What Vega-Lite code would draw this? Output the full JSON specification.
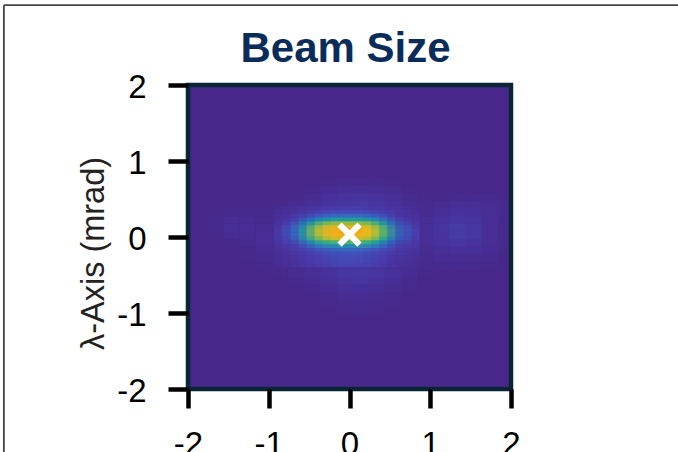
{"$schema":"https://vega.github.io/schema/vega-lite/v6.json","autosize":"none","padding":{"left":188,"top":85,"right":167,"bottom":63},"width":323,"height":304,"background":"white","title":{"text":"Beam Size","font":"Liberation Sans","fontSize":42,"fontWeight":"bold","color":"#0a2c5a","anchor":"middle","dx":-4,"offset":-67},"view":{"fill":"#47288a","stroke":null},
"encoding":{"x":{"field":"x","type":"quantitative","scale":{"domain":[-2,2],"nice":false,"zero":false},"axis":{"values":[-2,-1,0,1,2],"labelExpr":"toString(datum.value)","title":null,"domain":false,"grid":false,"zindex":1,"tickColor":"black","tickWidth":4.5,"tickSize":19,"labelFont":"Liberation Sans","labelFontSize":33,"labelColor":"black","labelPadding":20,"labelBaseline":"top","labelOverlap":false,"labelFlush":false}},"y":{"field":"y","type":"quantitative","scale":{"domain":[-2,2],"nice":false,"zero":false},"axis":{"values":[-2,-1,0,1,2],"labelExpr":"toString(datum.value)","title":"λ-Axis (mrad)","domain":false,"grid":false,"zindex":1,"tickColor":"black","tickWidth":4.5,"tickSize":20,"labelFont":"Liberation Sans","labelFontSize":33,"labelColor":"black","labelPadding":22,"labelBaseline":"middle","labelOffset":2,"labelOverlap":false,"labelFlush":false,"titleFont":"Liberation Sans","titleFontSize":32.5,"titleFontWeight":"normal","titleColor":"#222222","titleX":-78,"titleY":168}}},
"layer":[
{"data":{"values":[{"x":-0.2,"y":0.7,"v":0.02},{"x":0,"y":0.7,"v":0.03},{"x":0.2,"y":0.7,"v":0.03},{"x":0.4,"y":0.7,"v":0.02},
{"x":-0.4,"y":0.6,"v":0.03},{"x":-0.2,"y":0.6,"v":0.05},{"x":0,"y":0.6,"v":0.06},{"x":0.2,"y":0.6,"v":0.06},{"x":0.4,"y":0.6,"v":0.05},{"x":0.6,"y":0.6,"v":0.02},
{"x":-0.6,"y":0.5,"v":0.02},{"x":-0.4,"y":0.5,"v":0.05},{"x":-0.2,"y":0.5,"v":0.07},{"x":0,"y":0.5,"v":0.08},{"x":0.2,"y":0.5,"v":0.08},{"x":0.4,"y":0.5,"v":0.07},{"x":0.6,"y":0.5,"v":0.04},{"x":0.8,"y":0.5,"v":0.02},{"x":1.2,"y":0.5,"v":0.02},{"x":1.4,"y":0.5,"v":0.03},{"x":1.6,"y":0.5,"v":0.03},{"x":1.8,"y":0.5,"v":0.02},
{"x":-0.8,"y":0.4,"v":0.02},{"x":-0.6,"y":0.4,"v":0.04},{"x":-0.4,"y":0.4,"v":0.06},{"x":-0.2,"y":0.4,"v":0.08},{"x":0,"y":0.4,"v":0.09},{"x":0.2,"y":0.4,"v":0.09},{"x":0.4,"y":0.4,"v":0.08},{"x":0.6,"y":0.4,"v":0.05},{"x":0.8,"y":0.4,"v":0.02},{"x":1,"y":0.4,"v":0.02},{"x":1.2,"y":0.4,"v":0.04},{"x":1.4,"y":0.4,"v":0.05},{"x":1.6,"y":0.4,"v":0.05},{"x":1.8,"y":0.4,"v":0.03},
{"x":-1.6,"y":0.3,"v":0.02},{"x":-1.4,"y":0.3,"v":0.03},{"x":-1.2,"y":0.3,"v":0.02},{"x":-1,"y":0.3,"v":0.02},{"x":0.8,"y":0.3,"v":0.03},{"x":1,"y":0.3,"v":0.03},{"x":1.2,"y":0.3,"v":0.06},{"x":1.4,"y":0.3,"v":0.07},{"x":1.6,"y":0.3,"v":0.06},{"x":1.8,"y":0.3,"v":0.03},
{"x":-1.6,"y":0.2,"v":0.03},{"x":-1.4,"y":0.2,"v":0.05},{"x":-1.2,"y":0.2,"v":0.03},{"x":-1,"y":0.2,"v":0.03},{"x":0.8,"y":0.2,"v":0.03},{"x":1,"y":0.2,"v":0.05},{"x":1.2,"y":0.2,"v":0.08},{"x":1.4,"y":0.2,"v":0.09},{"x":1.6,"y":0.2,"v":0.07},{"x":1.8,"y":0.2,"v":0.03},
{"x":-1.6,"y":0.1,"v":0.02},{"x":-1.4,"y":0.1,"v":0.05},{"x":-1.2,"y":0.1,"v":0.03},{"x":-1,"y":0.1,"v":0.04},{"x":0.8,"y":0.1,"v":0.03},{"x":1,"y":0.1,"v":0.06},{"x":1.2,"y":0.1,"v":0.09},{"x":1.4,"y":0.1,"v":0.11},{"x":1.6,"y":0.1,"v":0.08},{"x":1.8,"y":0.1,"v":0.03},
{"x":-1.4,"y":0,"v":0.02},{"x":-1.2,"y":0,"v":0.02},{"x":-1,"y":0,"v":0.05},{"x":0.8,"y":0,"v":0.03},{"x":1,"y":0,"v":0.05},{"x":1.2,"y":0,"v":0.08},{"x":1.4,"y":0,"v":0.1},{"x":1.6,"y":0,"v":0.07},{"x":1.8,"y":0,"v":0.02},
{"x":-1.2,"y":-0.1,"v":0.02},{"x":-1,"y":-0.1,"v":0.05},{"x":0.8,"y":-0.1,"v":0.02},{"x":1,"y":-0.1,"v":0.04},{"x":1.2,"y":-0.1,"v":0.07},{"x":1.4,"y":-0.1,"v":0.08},{"x":1.6,"y":-0.1,"v":0.05},{"x":1.8,"y":-0.1,"v":0.02},
{"x":-1.2,"y":-0.2,"v":0.01},{"x":-1,"y":-0.2,"v":0.04},{"x":0.8,"y":-0.2,"v":0.02},{"x":1,"y":-0.2,"v":0.03},{"x":1.2,"y":-0.2,"v":0.05},{"x":1.4,"y":-0.2,"v":0.05},{"x":1.6,"y":-0.2,"v":0.04},
{"x":-1,"y":-0.3,"v":0.03},{"x":0.8,"y":-0.3,"v":0.02},{"x":1,"y":-0.3,"v":0.02},{"x":1.2,"y":-0.3,"v":0.03},{"x":1.4,"y":-0.3,"v":0.03},{"x":1.6,"y":-0.3,"v":0.02},
{"x":-0.8,"y":-0.4,"v":0.02},{"x":-0.6,"y":-0.4,"v":0.04},{"x":-0.4,"y":-0.4,"v":0.06},{"x":-0.2,"y":-0.4,"v":0.08},{"x":0,"y":-0.4,"v":0.1},{"x":0.2,"y":-0.4,"v":0.1},{"x":0.4,"y":-0.4,"v":0.08},{"x":0.6,"y":-0.4,"v":0.05},{"x":0.8,"y":-0.4,"v":0.02},
{"x":-0.6,"y":-0.5,"v":0.03},{"x":-0.4,"y":-0.5,"v":0.05},{"x":-0.2,"y":-0.5,"v":0.07},{"x":0,"y":-0.5,"v":0.09},{"x":0.2,"y":-0.5,"v":0.09},{"x":0.4,"y":-0.5,"v":0.07},{"x":0.6,"y":-0.5,"v":0.04},
{"x":-0.4,"y":-0.6,"v":0.03},{"x":-0.2,"y":-0.6,"v":0.05},{"x":0,"y":-0.6,"v":0.07},{"x":0.2,"y":-0.6,"v":0.07},{"x":0.4,"y":-0.6,"v":0.05},{"x":0.6,"y":-0.6,"v":0.02},
{"x":-0.2,"y":-0.7,"v":0.03},{"x":0,"y":-0.7,"v":0.05},{"x":0.2,"y":-0.7,"v":0.05},{"x":0.4,"y":-0.7,"v":0.03},
{"x":-0.2,"y":-0.8,"v":0.02},{"x":0,"y":-0.8,"v":0.03},{"x":0.2,"y":-0.8,"v":0.03},{"x":0.4,"y":-0.8,"v":0.02},
{"x":0,"y":-0.9,"v":0.02},{"x":0.2,"y":-0.9,"v":0.02}]},
"mark":{"type":"rect","width":32.3,"height":15.2,"opacity":0.3,"clip":true,"xOffset":3,"yOffset":2},
"encoding":{"color":{"field":"v","type":"quantitative","legend":null,"scale":{"domain":[0,0.07,0.15,0.28,0.38,0.5,0.66,0.85,1],"range":["#47288a","#4a38a6","#4450bc","#3a7cc4","#20a0a0","#30b080","#90c040","#f0c020","#f8a818"]}}}},
{"data":{"values":[
{"x":-0.8,"y":0.35,"v":0.03},{"x":-0.7,"y":0.35,"v":0.04},{"x":-0.6,"y":0.35,"v":0.05},{"x":-0.5,"y":0.35,"v":0.06},{"x":-0.4,"y":0.35,"v":0.07},{"x":-0.3,"y":0.35,"v":0.08},{"x":-0.2,"y":0.35,"v":0.09},{"x":-0.1,"y":0.35,"v":0.1},{"x":0,"y":0.35,"v":0.1},{"x":0.1,"y":0.35,"v":0.1},{"x":0.2,"y":0.35,"v":0.09},{"x":0.3,"y":0.35,"v":0.08},{"x":0.4,"y":0.35,"v":0.07},{"x":0.5,"y":0.35,"v":0.06},{"x":0.6,"y":0.35,"v":0.05},{"x":0.7,"y":0.35,"v":0.04},
{"x":-0.8,"y":0.3,"v":0.04},{"x":-0.7,"y":0.3,"v":0.05},{"x":-0.6,"y":0.3,"v":0.06},{"x":-0.5,"y":0.3,"v":0.08},{"x":-0.4,"y":0.3,"v":0.1},{"x":-0.3,"y":0.3,"v":0.12},{"x":-0.2,"y":0.3,"v":0.14},{"x":-0.1,"y":0.3,"v":0.14},{"x":0,"y":0.3,"v":0.14},{"x":0.1,"y":0.3,"v":0.14},{"x":0.2,"y":0.3,"v":0.13},{"x":0.3,"y":0.3,"v":0.12},{"x":0.4,"y":0.3,"v":0.1},{"x":0.5,"y":0.3,"v":0.08},{"x":0.6,"y":0.3,"v":0.06},{"x":0.7,"y":0.3,"v":0.05},
{"x":-0.8,"y":0.25,"v":0.05},{"x":-0.7,"y":0.25,"v":0.06},{"x":-0.6,"y":0.25,"v":0.08},{"x":-0.5,"y":0.25,"v":0.12},{"x":-0.4,"y":0.25,"v":0.18},{"x":-0.3,"y":0.25,"v":0.22},{"x":-0.2,"y":0.25,"v":0.24},{"x":-0.1,"y":0.25,"v":0.25},{"x":0,"y":0.25,"v":0.25},{"x":0.1,"y":0.25,"v":0.25},{"x":0.2,"y":0.25,"v":0.24},{"x":0.3,"y":0.25,"v":0.21},{"x":0.4,"y":0.25,"v":0.16},{"x":0.5,"y":0.25,"v":0.11},{"x":0.6,"y":0.25,"v":0.07},{"x":0.7,"y":0.25,"v":0.05},
{"x":-0.8,"y":0.2,"v":0.05},{"x":-0.7,"y":0.2,"v":0.08},{"x":-0.6,"y":0.2,"v":0.13},{"x":-0.5,"y":0.2,"v":0.22},{"x":-0.4,"y":0.2,"v":0.32},{"x":-0.3,"y":0.2,"v":0.4},{"x":-0.2,"y":0.2,"v":0.44},{"x":-0.1,"y":0.2,"v":0.45},{"x":0,"y":0.2,"v":0.45},{"x":0.1,"y":0.2,"v":0.44},{"x":0.2,"y":0.2,"v":0.43},{"x":0.3,"y":0.2,"v":0.38},{"x":0.4,"y":0.2,"v":0.29},{"x":0.5,"y":0.2,"v":0.19},{"x":0.6,"y":0.2,"v":0.1},{"x":0.7,"y":0.2,"v":0.06},
{"x":-0.8,"y":0.15,"v":0.07},{"x":-0.7,"y":0.15,"v":0.13},{"x":-0.6,"y":0.15,"v":0.22},{"x":-0.5,"y":0.15,"v":0.37},{"x":-0.4,"y":0.15,"v":0.54},{"x":-0.3,"y":0.15,"v":0.66},{"x":-0.2,"y":0.15,"v":0.73},{"x":-0.1,"y":0.15,"v":0.75},{"x":0,"y":0.15,"v":0.75},{"x":0.1,"y":0.15,"v":0.74},{"x":0.2,"y":0.15,"v":0.71},{"x":0.3,"y":0.15,"v":0.64},{"x":0.4,"y":0.15,"v":0.49},{"x":0.5,"y":0.15,"v":0.31},{"x":0.6,"y":0.15,"v":0.16},{"x":0.7,"y":0.15,"v":0.09},
{"x":-0.8,"y":0.1,"v":0.09},{"x":-0.7,"y":0.1,"v":0.16},{"x":-0.6,"y":0.1,"v":0.28},{"x":-0.5,"y":0.1,"v":0.47},{"x":-0.4,"y":0.1,"v":0.68},{"x":-0.3,"y":0.1,"v":0.84},{"x":-0.2,"y":0.1,"v":0.92},{"x":-0.1,"y":0.1,"v":0.95},{"x":0,"y":0.1,"v":0.95},{"x":0.1,"y":0.1,"v":0.93},{"x":0.2,"y":0.1,"v":0.9},{"x":0.3,"y":0.1,"v":0.81},{"x":0.4,"y":0.1,"v":0.62},{"x":0.5,"y":0.1,"v":0.4},{"x":0.6,"y":0.1,"v":0.21},{"x":0.7,"y":0.1,"v":0.11},
{"x":-0.8,"y":0.05,"v":0.1},{"x":-0.7,"y":0.05,"v":0.17},{"x":-0.6,"y":0.05,"v":0.3},{"x":-0.5,"y":0.05,"v":0.5},{"x":-0.4,"y":0.05,"v":0.72},{"x":-0.3,"y":0.05,"v":0.88},{"x":-0.2,"y":0.05,"v":0.97},{"x":-0.1,"y":0.05,"v":1},{"x":0,"y":0.05,"v":1},{"x":0.1,"y":0.05,"v":0.98},{"x":0.2,"y":0.05,"v":0.95},{"x":0.3,"y":0.05,"v":0.85},{"x":0.4,"y":0.05,"v":0.65},{"x":0.5,"y":0.05,"v":0.42},{"x":0.6,"y":0.05,"v":0.22},{"x":0.7,"y":0.05,"v":0.12},
{"x":-0.8,"y":0,"v":0.09},{"x":-0.7,"y":0,"v":0.16},{"x":-0.6,"y":0,"v":0.28},{"x":-0.5,"y":0,"v":0.47},{"x":-0.4,"y":0,"v":0.68},{"x":-0.3,"y":0,"v":0.84},{"x":-0.2,"y":0,"v":0.92},{"x":-0.1,"y":0,"v":0.95},{"x":0,"y":0,"v":0.95},{"x":0.1,"y":0,"v":0.93},{"x":0.2,"y":0,"v":0.9},{"x":0.3,"y":0,"v":0.81},{"x":0.4,"y":0,"v":0.62},{"x":0.5,"y":0,"v":0.4},{"x":0.6,"y":0,"v":0.21},{"x":0.7,"y":0,"v":0.11},
{"x":-0.8,"y":-0.05,"v":0.08},{"x":-0.7,"y":-0.05,"v":0.13},{"x":-0.6,"y":-0.05,"v":0.23},{"x":-0.5,"y":-0.05,"v":0.39},{"x":-0.4,"y":-0.05,"v":0.56},{"x":-0.3,"y":-0.05,"v":0.69},{"x":-0.2,"y":-0.05,"v":0.76},{"x":-0.1,"y":-0.05,"v":0.78},{"x":0,"y":-0.05,"v":0.78},{"x":0.1,"y":-0.05,"v":0.76},{"x":0.2,"y":-0.05,"v":0.74},{"x":0.3,"y":-0.05,"v":0.66},{"x":0.4,"y":-0.05,"v":0.51},{"x":0.5,"y":-0.05,"v":0.33},{"x":0.6,"y":-0.05,"v":0.17},{"x":0.7,"y":-0.05,"v":0.09},
{"x":-0.8,"y":-0.1,"v":0.06},{"x":-0.7,"y":-0.1,"v":0.09},{"x":-0.6,"y":-0.1,"v":0.15},{"x":-0.5,"y":-0.1,"v":0.25},{"x":-0.4,"y":-0.1,"v":0.36},{"x":-0.3,"y":-0.1,"v":0.44},{"x":-0.2,"y":-0.1,"v":0.48},{"x":-0.1,"y":-0.1,"v":0.5},{"x":0,"y":-0.1,"v":0.5},{"x":0.1,"y":-0.1,"v":0.49},{"x":0.2,"y":-0.1,"v":0.48},{"x":0.3,"y":-0.1,"v":0.42},{"x":0.4,"y":-0.1,"v":0.32},{"x":0.5,"y":-0.1,"v":0.21},{"x":0.6,"y":-0.1,"v":0.12},{"x":0.7,"y":-0.1,"v":0.07},
{"x":-0.8,"y":-0.15,"v":0.05},{"x":-0.7,"y":-0.15,"v":0.07},{"x":-0.6,"y":-0.15,"v":0.1},{"x":-0.5,"y":-0.15,"v":0.15},{"x":-0.4,"y":-0.15,"v":0.22},{"x":-0.3,"y":-0.15,"v":0.26},{"x":-0.2,"y":-0.15,"v":0.29},{"x":-0.1,"y":-0.15,"v":0.3},{"x":0,"y":-0.15,"v":0.3},{"x":0.1,"y":-0.15,"v":0.29},{"x":0.2,"y":-0.15,"v":0.28},{"x":0.3,"y":-0.15,"v":0.25},{"x":0.4,"y":-0.15,"v":0.2},{"x":0.5,"y":-0.15,"v":0.14},{"x":0.6,"y":-0.15,"v":0.09},{"x":0.7,"y":-0.15,"v":0.06},
{"x":-0.8,"y":-0.2,"v":0.04},{"x":-0.7,"y":-0.2,"v":0.06},{"x":-0.6,"y":-0.2,"v":0.08},{"x":-0.5,"y":-0.2,"v":0.1},{"x":-0.4,"y":-0.2,"v":0.13},{"x":-0.3,"y":-0.2,"v":0.16},{"x":-0.2,"y":-0.2,"v":0.18},{"x":-0.1,"y":-0.2,"v":0.19},{"x":0,"y":-0.2,"v":0.19},{"x":0.1,"y":-0.2,"v":0.18},{"x":0.2,"y":-0.2,"v":0.17},{"x":0.3,"y":-0.2,"v":0.15},{"x":0.4,"y":-0.2,"v":0.13},{"x":0.5,"y":-0.2,"v":0.1},{"x":0.6,"y":-0.2,"v":0.07},{"x":0.7,"y":-0.2,"v":0.05},
{"x":-0.8,"y":-0.25,"v":0.04},{"x":-0.7,"y":-0.25,"v":0.05},{"x":-0.6,"y":-0.25,"v":0.07},{"x":-0.5,"y":-0.25,"v":0.08},{"x":-0.4,"y":-0.25,"v":0.1},{"x":-0.3,"y":-0.25,"v":0.12},{"x":-0.2,"y":-0.25,"v":0.13},{"x":-0.1,"y":-0.25,"v":0.14},{"x":0,"y":-0.25,"v":0.14},{"x":0.1,"y":-0.25,"v":0.14},{"x":0.2,"y":-0.25,"v":0.13},{"x":0.3,"y":-0.25,"v":0.12},{"x":0.4,"y":-0.25,"v":0.1},{"x":0.5,"y":-0.25,"v":0.08},{"x":0.6,"y":-0.25,"v":0.06},{"x":0.7,"y":-0.25,"v":0.05},
{"x":-0.8,"y":-0.3,"v":0.03},{"x":-0.7,"y":-0.3,"v":0.05},{"x":-0.6,"y":-0.3,"v":0.06},{"x":-0.5,"y":-0.3,"v":0.07},{"x":-0.4,"y":-0.3,"v":0.09},{"x":-0.3,"y":-0.3,"v":0.1},{"x":-0.2,"y":-0.3,"v":0.12},{"x":-0.1,"y":-0.3,"v":0.13},{"x":0,"y":-0.3,"v":0.13},{"x":0.1,"y":-0.3,"v":0.13},{"x":0.2,"y":-0.3,"v":0.12},{"x":0.3,"y":-0.3,"v":0.11},{"x":0.4,"y":-0.3,"v":0.09},{"x":0.5,"y":-0.3,"v":0.07},{"x":0.6,"y":-0.3,"v":0.05},{"x":0.7,"y":-0.3,"v":0.04}]},
"mark":{"type":"rect","width":24.2,"height":11.4,"opacity":0.4,"xOffset":1.5,"yOffset":1.5},
"encoding":{"color":{"field":"v","type":"quantitative","legend":null,"scale":{"domain":[0,0.07,0.15,0.28,0.38,0.5,0.66,0.85,1],"range":["#47288a","#4a38a6","#4450bc","#3a7cc4","#20a0a0","#30b080","#90c040","#f0c020","#f8a818"]}}}},
{"data":{"values":[{"x":-2,"x2":2,"y":-2,"y2":2}]},
"mark":{"type":"rect","fillOpacity":0,"stroke":"#0a2535","strokeWidth":4.5},
"encoding":{"x2":{"field":"x2"},"y2":{"field":"y2"}}},
{"data":{"values":[{"x":0,"y":0.03}]},
"mark":{"type":"point","shape":"M-1,-1L1,1M-1,1L1,-1","filled":false,"stroke":"white","strokeWidth":6,"size":400,"opacity":1},
"encoding":{}},
{"data":{"values":[{"x":-4.28,"y":3.05,"y2":-2.85},{"x":-4.28,"x2":4.07,"y":3.05}]},
"mark":{"type":"rule","stroke":"#444444","strokeWidth":1.8,"clip":false},
"encoding":{"x2":{"field":"x2"},"y2":{"field":"y2"}}}
]}
